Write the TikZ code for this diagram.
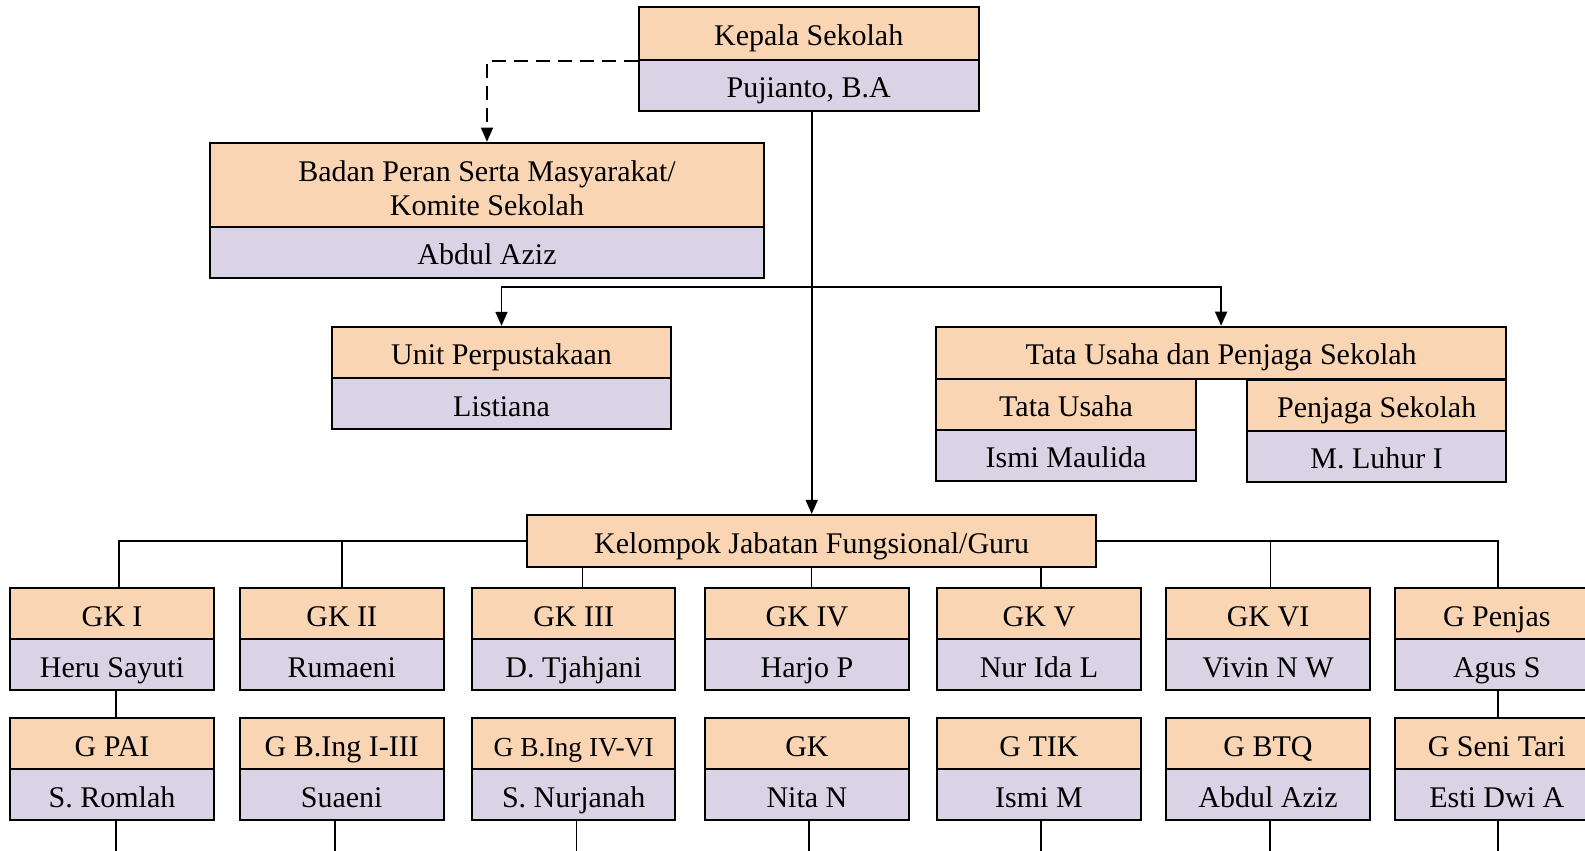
\documentclass[tikz,border=0pt]{standalone}
\usepackage{fontspec}
\setmainfont{Liberation Serif}
\usetikzlibrary{arrows.meta,calc}
\definecolor{peach}{RGB}{250,213,180}
\definecolor{lav}{RGB}{218,211,230}
\begin{document}
\begin{tikzpicture}[x=0.5pt,y=-0.5pt,
  hd/.style={draw, line width=1pt, fill=peach, minimum height=25.5pt, inner sep=0pt,
    text height=13pt, text depth=0.8pt,
    font=\fontsize{15pt}{17pt}\selectfont},
  nm/.style={hd, fill=lav},
  col/.style={minimum width=101.75pt},
  ln/.style={draw, line width=0.8pt},
  arr/.style={ln, -{Triangle[length=7pt,width=6pt]}}]
\useasboundingbox (0,0) rectangle (1585,851);
\clip (0,0) rectangle (1585,851);

% top
\node[hd, minimum width=169.9pt, minimum height=26.2pt] (kept) at (808.7,33.5) {Kepala Sekolah};
\node[nm, minimum width=169.9pt] (kepn) at (808.7,85.2) {Pujianto, B.A};

\node[hd, minimum width=276.8pt, minimum height=42pt, text height=10pt, text depth=13.7pt] (badt) at (487,184.7)
  {\begin{tabular}[t]{@{}c@{}}Badan Peran Serta Masyarakat/\\Komite Sekolah\end{tabular}};
\node[nm, minimum width=276.8pt, minimum height=25.8pt] (badn) at (487,252.5) {Abdul Aziz};

\node[hd, minimum width=169.85pt] (unitt) at (501.5,352.3) {Unit Perpustakaan};
\node[nm, minimum width=169.85pt] (unitn) at (501.5,403.8) {Listiana};

\node[hd, minimum width=285.3pt, minimum height=26pt] (tatat) at (1221.1,352.7) {Tata Usaha dan Penjaga Sekolah};
\node[hd, minimum width=130.2pt] (tut) at (1066,404.4) {Tata Usaha};
\node[nm, minimum width=130.2pt] (tun) at (1066,455.6) {Ismi Maulida};
\node[hd, minimum width=129.75pt] (pst) at (1376.7,405.5) {Penjaga Sekolah};
\node[nm, minimum width=129.75pt] (psn) at (1376.7,456.7) {M. Luhur I};

\node[hd, minimum width=284.7pt, minimum height=25.85pt] (kel) at (811.7,540.8) {Kelompok Jabatan Fungsional/Guru};

% row 1
\node[hd,col] (gk1t) at (112.05,613.8) {GK I};
\node[nm,col] (gk1n) at (112.05,664.8) {Heru Sayuti};
\node[hd,col] (gk2t) at (341.75,613.8) {GK II};
\node[nm,col] (gk2n) at (341.75,664.8) {Rumaeni};
\node[hd,col] (gk3t) at (573.65,613.8) {GK III};
\node[nm,col] (gk3n) at (573.65,664.8) {D. Tjahjani};
\node[hd,col] (gk4t) at (806.95,613.8) {GK IV};
\node[nm,col] (gk4n) at (806.95,664.8) {Harjo P};
\node[hd,col] (gk5t) at (1038.95,613.8) {GK V};
\node[nm,col] (gk5n) at (1038.95,664.8) {Nur Ida L};
\node[hd,col] (gk6t) at (1268.05,613.8) {GK VI};
\node[nm,col] (gk6n) at (1268.05,664.8) {Vivin N W};
\node[hd,col] (gk7t) at (1496.75,613.8) {G Penjas};
\node[nm,col] (gk7n) at (1496.75,664.8) {Agus S};

% row 2
\node[hd,col] (r1t) at (112.05,743.8) {G PAI};
\node[nm,col] (r1n) at (112.05,794.8) {S. Romlah};
\node[hd,col] (r2t) at (341.75,743.8) {G B.Ing I-III};
\node[nm,col] (r2n) at (341.75,794.8) {Suaeni};
\node[hd,col,font=\fontsize{13.75pt}{15pt}\selectfont] (r3t) at (573.65,743.8) {G B.Ing IV-VI};
\node[nm,col] (r3n) at (573.65,794.8) {S. Nurjanah};
\node[hd,col] (r4t) at (806.95,743.8) {GK};
\node[nm,col] (r4n) at (806.95,794.8) {Nita N};
\node[hd,col] (r5t) at (1038.95,743.8) {G TIK};
\node[nm,col] (r5n) at (1038.95,794.8) {Ismi M};
\node[hd,col] (r6t) at (1268.05,743.8) {G BTQ};
\node[nm,col] (r6n) at (1268.05,794.8) {Abdul Aziz};
\node[hd,col] (r7t) at (1496.75,743.8) {G Seni Tari};
\node[nm,col] (r7n) at (1496.75,794.8) {Esti Dwi A};

% top connectors
\draw[arr, dashed, dash pattern=on 7pt off 4pt] (kept.south west) -| (badt.north);
\draw[arr] (kepn.south -| kel.north) -- (kel.north);
\coordinate (j) at ($(kepn.south -| kel.north)+(0,175.3)$);
\draw[arr] (j) -| (unitt.north);
\draw[arr] (j) -| (tatat.north);

% group connectors
\coordinate (c1) at ($(gk1t.north)+(7,0)$);
\coordinate (c2) at ($(gk2t.north)+(0,0)$);
\coordinate (c3) at ($(gk3t.north)+(9,0)$);
\coordinate (c4) at ($(gk4t.north)+(4.7,0)$);
\coordinate (c5) at ($(gk5t.north)+(2.3,0)$);
\coordinate (c6) at ($(gk6t.north)+(2.3,0)$);
\coordinate (c7) at ($(gk7t.north)+(1.5,0)$);
\draw[ln] (kel.west) -| (c1);
\draw[ln] (c2) -- (c2 |- kel.west);
\draw[ln] (c3) -- (c3 |- kel.south);
\draw[ln] (c4) -- (c4 |- kel.south);
\draw[ln] (c5) -- (c5 |- kel.south);
\draw[ln] (kel.east) -| (c7);
\draw[ln] (c6) -- (c6 |- kel.east);

% between rows
\draw[ln] ($(gk1n.south)+(4,0)$) -- ($(r1t.north)+(4,0)$);
\draw[ln] ($(gk7n.south)+(1.5,0)$) -- ($(r7t.north)+(1.5,0)$);

% below row 2
\draw[ln] ($(r1n.south)+(4,0)$) -- ++(0,40);
\draw[ln] ($(r2n.south)+(-6.8,0)$) -- ++(0,40);
\draw[ln] ($(r3n.south)+(3,0)$) -- ++(0,40);
\draw[ln] ($(r4n.south)+(2,0)$) -- ++(0,40);
\draw[ln] ($(r5n.south)+(2,0)$) -- ++(0,40);
\draw[ln] ($(r6n.south)+(2,0)$) -- ++(0,40);
\draw[ln] ($(r7n.south)+(1.5,0)$) -- ++(0,40);
\end{tikzpicture}
\end{document}
